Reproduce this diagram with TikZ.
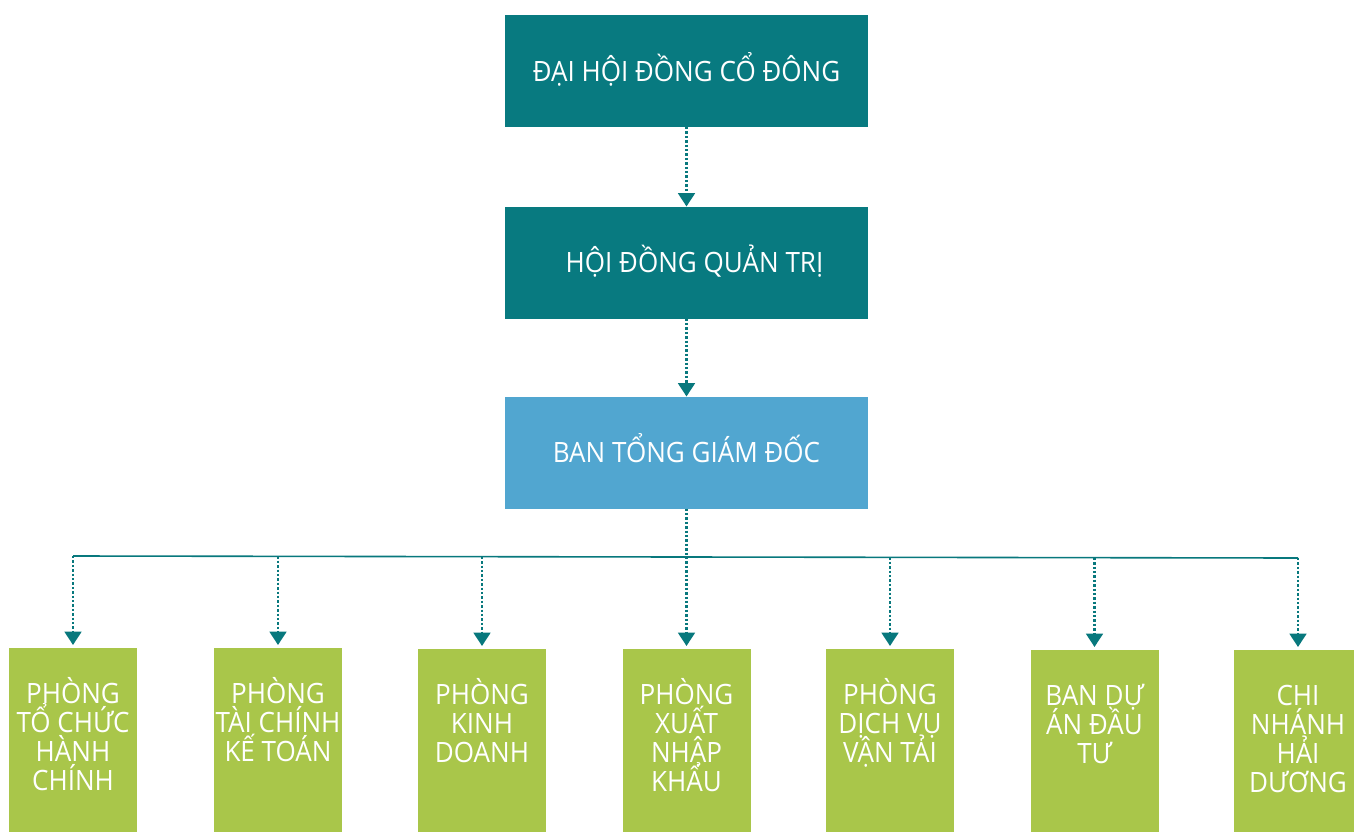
\documentclass[tikz,border=0pt]{standalone}
\usepackage{fontspec}
\setmainfont[FakeStretch=0.93]{Open Sans}
\usetikzlibrary{arrows.meta}
\definecolor{teal1}{RGB}{8,122,128}
\definecolor{blue1}{RGB}{81,166,208}
\definecolor{green1}{RGB}{169,198,74}
\definecolor{arrowc}{RGB}{8,120,125}
\newcommand{\btext}[1]{\parbox[t][144pt][t]{96pt}{\centering\lineskiplimit=-100pt\baselineskip=21.75pt\vspace*{19.25pt}\rule{0pt}{22pt}#1}}
\begin{document}
\begin{tikzpicture}[x=0.75pt,y=-0.75pt,
  topbox/.style={rectangle,fill=#1,inner sep=0pt,outer sep=0pt,minimum width=272.25pt,minimum height=84pt,text=white,text height=15pt,text depth=0pt,font=\fontsize{21}{24}\selectfont},
  greenbox/.style={rectangle,fill=green1,inner sep=0pt,outer sep=0pt,anchor=north,text=white,font=\fontsize{21}{21.75}\selectfont},
  dotarrow/.style={draw=arrowc,line width=2pt,dash pattern=on 1.8pt off 1.5pt,-{Triangle[width=12.5pt,length=10pt]}},
  busline/.style={draw=arrowc,line width=1.2pt}]
\useasboundingbox (0,0) rectangle (1354,832);
\node[topbox=teal1] (dhd) at (686.5,71) {ĐẠI HỘI ĐỒNG CỔ ĐÔNG};
\node[topbox=teal1] (hdqt) at (686.5,262.5) {\hspace*{12pt}HỘI ĐỒNG QUẢN TRỊ};
\node[topbox=blue1] (btgd) at (686.5,452.5) {BAN TỔNG GIÁM ĐỐC};
\node[greenbox] (b1) at (73,648) {\btext{PHÒNG\\TỔ CHỨC\\HÀNH\\CHÍNH}};
\node[greenbox] (b2) at (278,648) {\btext{PHÒNG\\TÀI CHÍNH\\KẾ TOÁN}};
\node[greenbox] (b3) at (482,649) {\btext{PHÒNG\\KINH\\DOANH}};
\node[greenbox] (b4) at (686.5,649) {\btext{PHÒNG\\XUẤT\\NHẬP\\KHẨU}};
\node[greenbox] (b5) at (890,649) {\btext{PHÒNG\\DỊCH VỤ\\VẬN TẢI}};
\node[greenbox] (b6) at (1094.5,650) {\btext{BAN DỰ\\ÁN ĐẦU\\TƯ}};
\node[greenbox] (b7) at (1298,650) {\btext{CHI\\NHÁNH\\HẢI\\DƯƠNG}};
\coordinate (c1) at (73,556);
\coordinate (c2) at (278,556.3);
\coordinate (c3) at (482,556.7);
\coordinate (c5) at (890,557.3);
\coordinate (c6) at (1094.5,557.7);
\coordinate (c7) at (1298,558);
\draw[busline] (c1) -- (c7);
\draw[dotarrow] (dhd.south) -- (hdqt.north);
\draw[dotarrow] (hdqt.south) -- (btgd.north);
\draw[dotarrow,shorten >=2.25pt] (btgd.south) -- (b4.north);
\foreach \i in {1,2,3,5,6,7}{
  \draw[dotarrow,shorten >=2.25pt] (c\i) -- (b\i.north);
}
\end{tikzpicture}
\end{document}
